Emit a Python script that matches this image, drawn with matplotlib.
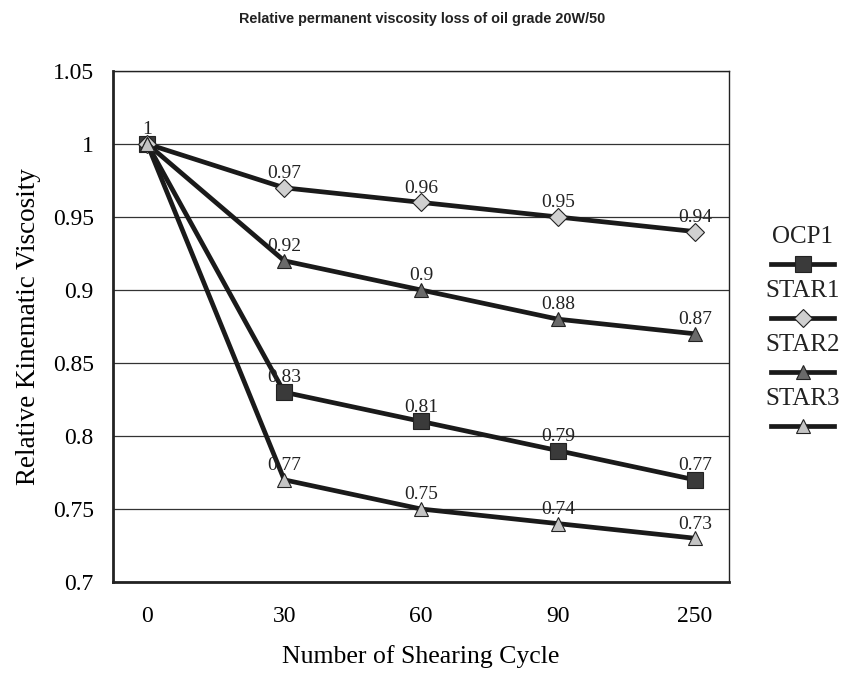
# Relative permanent viscosity loss chart
import matplotlib.pyplot as plt
from matplotlib.lines import Line2D

cycles = ['0', '30', '60', '90', '250']
series_names = ['OCP1', 'STAR1', 'STAR2', 'STAR3']
ocp1 = [1, 0.83, 0.81, 0.79, 0.77]
star1 = [1, 0.97, 0.96, 0.95, 0.94]
star2 = [1, 0.92, 0.90, 0.88, 0.87]
star3 = [1, 0.77, 0.75, 0.74, 0.73]
yticks = [0.7, 0.75, 0.8, 0.85, 0.9, 0.95, 1.0, 1.05]
ytick_labels = ['0.7', '0.75', '0.8', '0.85', '0.9', '0.95', '1', '1.05']

all_series = [ocp1, star1, star2, star3]
markers = ['s', 'D', '^', '^']
faces = ['#3a3a3a', '#d0d0d0', '#6a6a6a', '#c4c4c4']
sizes = [11, 9, 10, 10]

serif = ['Liberation Serif', 'DejaVu Serif']

fig = plt.figure(figsize=(8.44, 6.76), dpi=100)
ax = fig.add_axes([0.134, 0.139, 0.730, 0.756])

x = list(range(len(cycles)))
for vals, m, fc, ms in zip(all_series, markers, faces, sizes):
    ax.plot(x, vals, color='#1a1a1a', lw=3.4, marker=m, markersize=ms,
            markerfacecolor=fc, markeredgecolor='#222222', markeredgewidth=0.8,
            zorder=3)
    for xi, v in zip(x, vals):
        if xi == 0 and vals is not ocp1:
            continue
        lbl = '1' if v == 1 else ('%g' % v)
        ax.annotate(lbl, (xi, v), xytext=(0, 7), textcoords='offset points',
                    ha='center', va='baseline', fontsize=14, family=serif,
                    color='#222222', zorder=4)

ax.set_xlim(-0.25, 4.25)
ax.set_ylim(0.7, 1.05)
ax.set_xticks(x)
ax.set_xticklabels(cycles)
ax.set_yticks(yticks)
ax.set_yticklabels(ytick_labels)
ax.tick_params(length=0, labelsize=17)
ax.tick_params(axis='x', pad=17)
ax.tick_params(axis='y', pad=14)
for lab in ax.get_xticklabels() + ax.get_yticklabels():
    lab.set_family(serif)
ax.grid(axis='y', color='#333333', lw=0.9)
ax.set_axisbelow(True)
for name, sp in ax.spines.items():
    sp.set_color('#222222')
    sp.set_linewidth(2.0 if name in ('left', 'bottom') else 1.0)

ax.set_xlabel('Number of Shearing Cycle', fontsize=18.5, family=serif, labelpad=13)
ax.set_ylabel('Relative Kinematic Viscosity', fontsize=19.5, family=serif, labelpad=8)

fig.text(0.5, 0.972, 'Relative permanent viscosity loss of oil grade 20W/50',
         ha='center', va='center', fontsize=10.4, weight='bold',
         family=['Liberation Sans', 'DejaVu Sans'], color='#222222')

# legend: name above each marker sample
leg_x = 0.951
y0 = 0.650
step = 0.080
for i, (name, m, fc, ms) in enumerate(zip(series_names, markers, faces, sizes)):
    ty = y0 - i * step
    fig.text(leg_x, ty, name, ha='center', va='center', fontsize=18,
             family=serif, color='#222222')
    ly = ty - 0.040
    fig.add_artist(Line2D([leg_x - 0.037, leg_x + 0.037], [ly, ly],
                          transform=fig.transFigure, color='#1a1a1a', lw=3.4))
    fig.add_artist(Line2D([leg_x], [ly], transform=fig.transFigure,
                          marker=m, markersize=ms, markerfacecolor=fc,
                          markeredgecolor='#222222', markeredgewidth=0.8,
                          linestyle='none'))

fig.savefig('out.png', dpi=100, facecolor='white')
